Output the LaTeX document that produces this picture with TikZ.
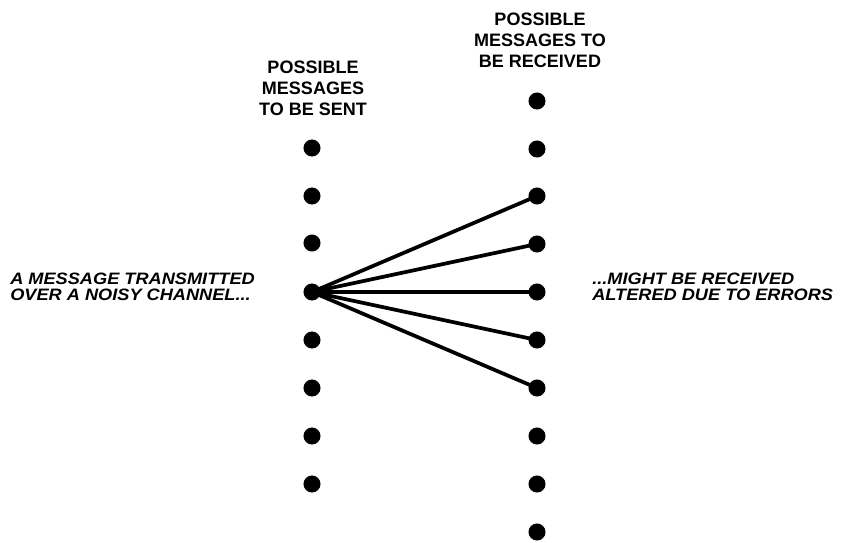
\documentclass[tikz,border=0pt]{standalone}
\usepackage{fontspec}
\setmainfont{Liberation Sans}
\newfontfamily\capfont[FakeStretch=1.1]{Liberation Sans}
\begin{document}
\begin{tikzpicture}[x=0.75pt,y=-0.75pt,
  dot/.style={circle,fill=black,inner sep=0pt,minimum size=12.8pt},
  conn/.style={line width=2.8pt},
  head/.style={inner sep=0pt,align=center,font=\fontsize{13.5}{15.75}\selectfont\bfseries},
  side/.style={inner sep=0pt,align=left,font=\fontsize{12.4}{11.7}\capfont\bfseries\itshape}]
\useasboundingbox (0,0) rectangle (841,542);
% left column
\foreach \i/\y in {1/148,2/196,3/243,4/292,5/340,6/388,7/436,8/484}
  \node[dot] (s\i) at (312,\y) {};
% right column
\foreach \i/\y in {1/101,2/149,3/196,4/244,5/292,6/340,7/388,8/436,9/484,10/532}
  \node[dot] (r\i) at (537,\y) {};
\foreach \j in {3,4,5,6,7}
  \draw[conn] (s4.center) -- (r\j.center);
\node[head,anchor=north] (hs) at (313,61) {POSSIBLE\\MESSAGES\\TO BE SENT};
\node[head,anchor=north] (hr) at (540,13) {POSSIBLE\\MESSAGES TO\\BE RECEIVED};
\node[side,anchor=north west] (tl) at (10,273) {A MESSAGE TRANSMITTED\\OVER A NOISY CHANNEL...};
\node[side,anchor=north west] (tr) at (592,273) {...MIGHT BE RECEIVED\\ALTERED DUE TO ERRORS};
\end{tikzpicture}
\end{document}
